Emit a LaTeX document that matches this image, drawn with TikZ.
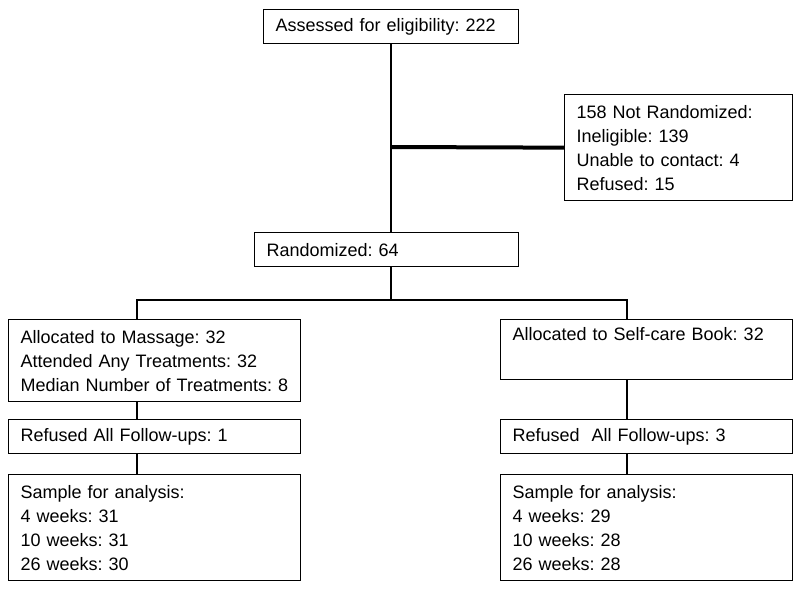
\documentclass[tikz,border=0pt]{standalone}
\usepackage{fontspec}
\setmainfont{Liberation Sans}
\frenchspacing

\begin{document}
\begin{tikzpicture}[x=1pt, y=-1pt,
  box/.style={draw, line width=1.3pt, anchor=north west, align=left,
    inner xsep=12pt, inner ysep=0pt, font=\fontsize{18}{24}\selectfont},
  link/.style={line width=2.3pt},
  heavylink/.style={line width=4pt}]
\useasboundingbox (0,0) rectangle (800,592);
% screening
\node[box, text width=231pt, minimum height=34pt] (assess) at (263,9) {Assessed for eligibility: 222};
\node[box, text width=204pt, minimum height=106pt] (notrand) at (564,94) {158 Not Randomized:\\Ineligible: 139\\Unable to contact: 4\\Refused: 15};
\node[box, text width=240pt, minimum height=34pt] (rand) at (254,232) {Randomized: 64};
% massage arm
\node[box, text width=268pt, minimum height=82pt] (massage) at (8,319) {Allocated to Massage: 32\\Attended Any Treatments: 32\\Median Number of Treatments: 8};
\node[box, text width=268pt, minimum height=34pt] (refmassage) at (8,419) {Refused All Follow-ups: 1};
\node[box, text width=268pt, minimum height=106pt] (sampmassage) at (8,474) {Sample for analysis:\\4 weeks: 31\\10 weeks: 31\\26 weeks: 30};
% book arm
\node[box, text width=268pt, minimum height=60pt] (book) at (500,319) {Allocated to Self-care Book: 32\\\strut};
\node[box, text width=268pt, minimum height=34pt] (refbook) at (500,419) {Refused~ All Follow-ups: 3};
\node[box, text width=268pt, minimum height=106pt] (sampbook) at (500,474) {Sample for analysis:\\4 weeks: 29\\10 weeks: 28\\26 weeks: 28};
% connectors
\coordinate (trunk) at (391,147);
\coordinate (split) at (391,300);
\coordinate (lsplit) at (137,300);
\coordinate (rsplit) at (627,300);
\draw[link] (assess.south -| trunk) -- (rand.north -| trunk);
\draw[heavylink] (trunk) -- (notrand.west);
\draw[link] (rand.south -| split) -- (split);
\draw[link] (massage.north -| lsplit) -- (lsplit) -- (rsplit) -- (book.north -| rsplit);
\draw[link] (massage.south -| lsplit) -- (refmassage.north -| lsplit);
\draw[link] (refmassage.south -| lsplit) -- (sampmassage.north -| lsplit);
\draw[link] (book.south -| rsplit) -- (refbook.north -| rsplit);
\draw[link] (refbook.south -| rsplit) -- (sampbook.north -| rsplit);
\end{tikzpicture}
\end{document}
